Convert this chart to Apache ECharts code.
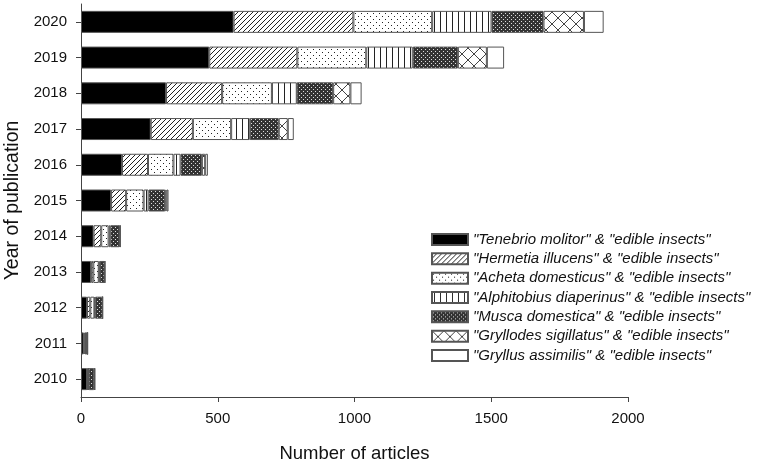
<!DOCTYPE html>
<html>
<head>
<meta charset="utf-8">
<script src="https://cdn.jsdelivr.net/npm/echarts@6/dist/echarts.min.js"></script>
<style>
  html, body { margin: 0; padding: 0; background: #fff; }
</style>
</head>
<body>
<div id="chart" style="width:760px;height:466px"></div>
<script>
  const years = ['2010', '2011', '2012', '2013', '2014', '2015', '2016', '2017', '2018', '2019', '2020']
  const tenebrio = [22, 10, 22, 37, 46, 110, 150, 255, 311, 469, 558]
  const hermetia = [2, 3, 12, 8, 28, 55, 95, 154, 205, 322, 438]
  const acheta = [3, 5, 15, 20, 27, 64, 93, 140, 182, 252, 288]
  const alphitobius = [1, 1, 3, 3, 6, 18, 26, 68, 91, 170, 217]
  const musca = [20, 5, 27, 18, 34, 61, 78, 106, 133, 165, 190]
  const gryllodes = [2, 0, 0, 1, 2, 5, 12, 33, 63, 106, 148]
  const gryllus = [1, 0, 0, 1, 1, 7, 10, 22, 41, 63, 72]
  const seriesNames = [
    '"Tenebrio molitor" & "edible insects"',
    '"Hermetia illucens" & "edible insects"',
    '"Acheta domesticus" & "edible insects"',
    '"Alphitobius diaperinus" & "edible insects"',
    '"Musca domestica" & "edible insects"',
    '"Gryllodes sigillatus" & "edible insects"',
    '"Gryllus assimilis" & "edible insects"'
  ]
  const xTicks = [0, 500, 1000, 1500, 2000]

  // hatch fills drawn on small canvases
  function pattern(kind) {
    const size = kind === 'cross' ? 12 : (kind === 'dots' ? 6 : (kind === 'vert' ? 6 : (kind === 'diag' ? 5 : 4)))
    const c = document.createElement('canvas')
    c.width = size
    c.height = size
    const g = c.getContext('2d')
    g.fillStyle = '#fff'
    g.fillRect(0, 0, size, size)
    g.strokeStyle = '#222'
    g.fillStyle = '#222'
    g.lineWidth = 1
    if (kind === 'diag') {
      g.beginPath()
      g.moveTo(0, size); g.lineTo(size, 0)
      g.moveTo(-1, 1); g.lineTo(1, -1)
      g.moveTo(size - 1, size + 1); g.lineTo(size + 1, size - 1)
      g.stroke()
    } else if (kind === 'dots') {
      g.fillRect(1, 1, 1, 1)
      g.fillRect(4, 4, 1, 1)
    } else if (kind === 'vert') {
      g.fillRect(2, 0, 1, size)
    } else if (kind === 'dense') {
      g.fillStyle = '#333'
      g.fillRect(0, 0, size, size)
      g.fillStyle = '#ddd'
      g.fillRect(1, 1, 1, 1)
      g.fillRect(3, 3, 1, 1)
    } else if (kind === 'cross') {
      g.strokeStyle = '#444'
      g.beginPath()
      g.moveTo(0, 0); g.lineTo(size, size)
      g.moveTo(size, 0); g.lineTo(0, size)
      g.stroke()
    }
    return c
  }

  const fills = [
    '#000',
    { image: pattern('diag'), repeat: 'repeat' },
    { image: pattern('dots'), repeat: 'repeat' },
    { image: pattern('vert'), repeat: 'repeat' },
    { image: pattern('dense'), repeat: 'repeat' },
    { image: pattern('cross'), repeat: 'repeat' },
    '#fff'
  ]
  const values = [tenebrio, hermetia, acheta, alphitobius, musca, gryllodes, gryllus]

  const chart = echarts.init(document.getElementById('chart'))
  chart.setOption({
    backgroundColor: '#fff',
    animation: false,
    textStyle: { fontFamily: 'Liberation Sans, Arial, sans-serif' },
    grid: {
      left: 81,
      right: 132,
      top: 4,
      bottom: 69,
      containLabel: false,
      outerBoundsMode: 'none'
    },
    legend: {
      orient: 'vertical',
      left: 426,
      top: 227,
      itemWidth: 36,
      itemHeight: 11,
      itemGap: 4.33,
      icon: 'rect',
      textStyle: {
        color: '#111',
        fontStyle: 'italic',
        fontSize: 15,
        lineHeight: 15
      },
      data: seriesNames
    },
    xAxis: {
      type: 'value',
      min: 0,
      max: 2000,
      interval: 500,
      name: 'Number of articles',
      nameLocation: 'middle',
      nameGap: 47,
      nameTextStyle: { color: '#111', fontSize: 18.5 },
      axisLine: { show: true, lineStyle: { color: '#444', width: 1 } },
      axisTick: { show: true, length: 5, lineStyle: { color: '#444' } },
      splitLine: { show: false },
      axisLabel: {
        color: '#111',
        fontSize: 15,
        margin: 14,
        formatter(v) {
          return xTicks.indexOf(v) >= 0 ? String(v) : ''
        }
      }
    },
    yAxis: {
      type: 'category',
      data: years,
      name: 'Year of publication',
      nameLocation: 'middle',
      nameGap: 55,
      nameRotate: 90,
      nameTextStyle: { color: '#111', fontSize: 19.5 },
      axisLine: { show: true, lineStyle: { color: '#444', width: 1 } },
      axisTick: { show: true, alignWithLabel: true, length: 5, lineStyle: { color: '#444' } },
      axisLabel: { color: '#111', fontSize: 15, margin: 14 }
    },
    series: seriesNames.map((name, i) => ({
      name: name,
      type: 'bar',
      stack: 'total',
      barWidth: 22,
      itemStyle: {
        color: fills[i],
        borderColor: '#555',
        borderWidth: 1
      },
      data: values[i]
    }))
  })
</script>
</body>
</html>
